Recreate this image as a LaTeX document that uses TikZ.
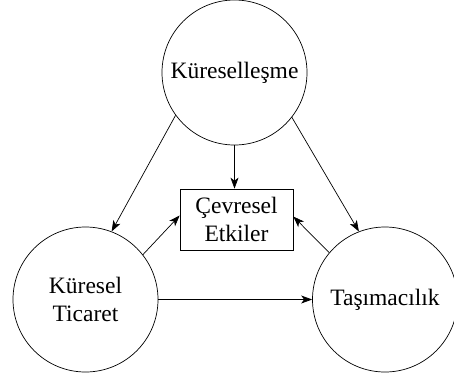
\documentclass[tikz,border=0pt]{standalone}
\usepackage{fontspec}
\setmainfont{Liberation Serif}
\usetikzlibrary{arrows.meta}
\begin{document}
\begin{tikzpicture}[x=1pt,y=-1pt,
  circ/.style={draw,circle,line width=0.7pt,minimum size=145pt,inner sep=0pt,align=center,font=\fontsize{23.5}{28}\selectfont},
  boxnode/.style={draw,rectangle,line width=0.7pt,minimum width=113pt,minimum height=61pt,inner sep=0pt,align=center,font=\fontsize{23.5}{28}\selectfont},
  arr/.style={line width=0.7pt,-{Stealth[length=11pt,width=8pt,inset=3pt]}}]
\useasboundingbox (0,0) rectangle (454,378);
\node[circ] (top) at (234.5,72.5) {Küreselleşme};
\node[circ] (left) at (85.5,299.5) {Küresel\\Ticaret};
\node[circ] (right) at (385,299.5) {Taşımacılık};
\node[boxnode] (box) at (236.5,219.5) {Çevresel\\Etkiler};
\draw[arr] (top.216.8) -- (left.69);
\draw[arr] (top.-38.4) -- (right.111);
\draw[arr] (top.south) -- (top.south |- box.north);
\draw[arr] (left.38) -- (box.176.5);
\draw[arr] (right.140) -- (box.3.5);
\draw[arr] (left.east) -- (right.west);
\end{tikzpicture}
\end{document}
